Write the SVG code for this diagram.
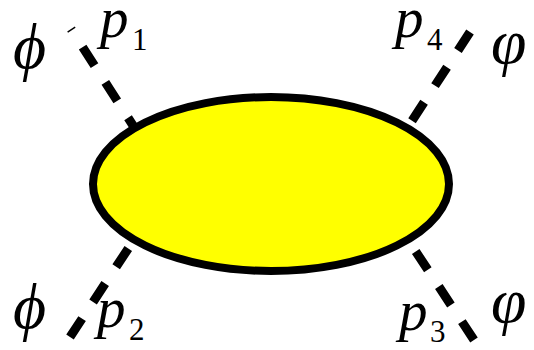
<svg xmlns="http://www.w3.org/2000/svg" width="534" height="350" viewBox="0 0 534 350">
<style>
.leg{fill:none;stroke:#000;stroke-width:9;stroke-dasharray:22 20;stroke-linecap:butt}
.t{font-family:"Liberation Serif","Times New Roman",serif;font-style:italic;font-size:57px;fill:#000}
.f{font-family:"Liberation Serif","Times New Roman",serif;font-style:italic;font-size:64px;fill:#000}
.s{font-family:"Liberation Serif","Times New Roman",serif;font-style:normal;font-size:31px;fill:#000}
</style>
<g id="connectors">
<line class="leg" x1="71" y1="29" x2="152" y2="155" style="stroke-dashoffset:20.5"/>
<line class="leg" x1="470" y1="32" x2="393.6" y2="149"/>
<line class="leg" x1="70" y1="337" x2="147" y2="220"/>
<line class="leg" x1="474" y1="340" x2="397" y2="223"/>
</g>
<g id="blob">
<ellipse cx="271" cy="184" rx="178" ry="87" fill="#ffff00" stroke="#000" stroke-width="8"/>
</g>
<g id="label-p1"><text class="t" x="100" y="37">p</text><text class="s" x="132" y="50">1</text></g>
<g id="label-p4"><text class="t" x="395" y="37">p</text><text class="s" x="427" y="50">4</text></g>
<g id="label-p2"><text class="t" x="97" y="327">p</text><text class="s" x="129" y="340">2</text></g>
<g id="label-p3"><text class="t" x="399" y="330">p</text><text class="s" x="430" y="342">3</text></g>
<g id="label-phi1"><text class="f" x="13" y="68">ϕ</text></g>
<g id="label-phi2"><text class="f" x="13" y="328">ϕ</text></g>
<g id="label-varphi4"><text class="f" x="491" y="63">φ</text></g>
<g id="label-varphi3"><text class="f" x="491" y="322">φ</text></g>
</svg>
